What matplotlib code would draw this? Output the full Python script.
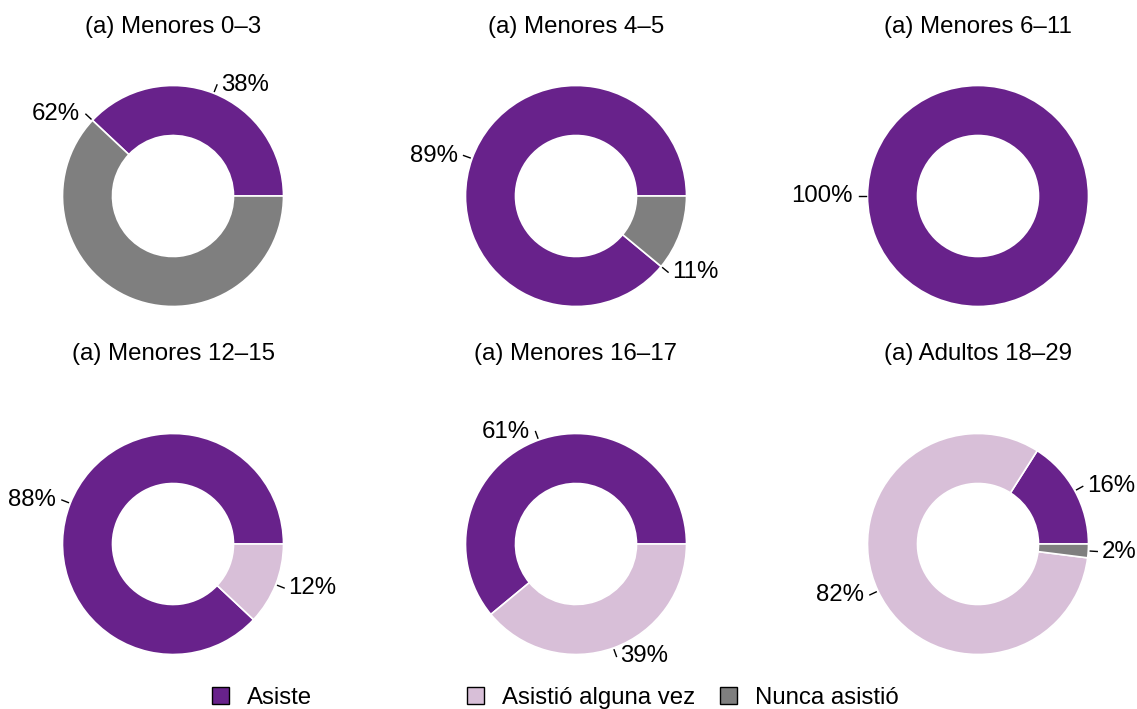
import numpy as np
import matplotlib
matplotlib.use("Agg")
import matplotlib.pyplot as plt
from matplotlib.patches import Patch

plt.rcParams["font.family"] = ["Liberation Sans", "DejaVu Sans"]

# Data
groups = ["Menores 0–3", "Menores 4–5", "Menores 6–11",
          "Menores 12–15", "Menores 16–17", "Adultos 18–29"]
categories = ["Asiste", "Asistió alguna vez", "Nunca asistió"]
asiste = [38, 89, 100, 88, 61, 16]
asistio = [0, 0, 0, 12, 39, 82]
nunca = [62, 11, 0, 0, 0, 2]

colors = ["#68228B", "#D8BFD8", "#7F7F7F"]

# in the original, these labels sit at the start of their slice, not the middle
label_at_start = {(0, 2), (1, 2)}

W, H = 1137, 709
fig = plt.figure(figsize=(W / 100, H / 100), dpi=100)

centers_x = [173, 576, 978]
centers_y = [196, 544]
title_y = [27, 354]
half = 170          # axes half-size in px, 100 px per data unit
r_out, r_in = 1.105, 0.605
fs = 17.3

for i, grp in enumerate(groups):
    row, col = divmod(i, 3)
    cx, cy = centers_x[col], centers_y[row]
    ax = fig.add_axes([(cx - half) / W, (H - cy - half) / H, 2 * half / W, 2 * half / H])
    vals = np.array([asiste[i], asistio[i], nunca[i]], dtype=float)
    keep = vals > 0
    ax.pie(vals[keep], colors=[c for c, k in zip(colors, keep) if k],
           startangle=0, counterclock=True, radius=r_out,
           wedgeprops=dict(width=r_out - r_in, edgecolor="white", linewidth=1.2))
    ax.set_xlim(-half / 100, half / 100)
    ax.set_ylim(-half / 100, half / 100)
    ax.set_aspect("equal")
    ax.axis("off")

    # labels with short leader ticks
    start = 0.0
    for j, v in enumerate(vals):
        if v <= 0:
            continue
        frac = start if (i, j) in label_at_start else start + v / 2
        ang = np.deg2rad(frac / 100 * 360)
        c, s = np.cos(ang), np.sin(ang)
        ax.plot([c * (r_out + 0.02), c * (r_out + 0.09)],
                [s * (r_out + 0.02), s * (r_out + 0.09)],
                color="black", lw=1, clip_on=False)
        tx = c * (r_out + 0.09) + (0.04 if c >= 0 else -0.06)
        ty = s * (r_out + 0.09)
        ax.text(tx, ty, f"{int(v)}%", ha="left" if c >= 0 else "right",
                va="center", fontsize=fs)
        start += v

    fig.text(cx / W, 1 - title_y[row] / H, f"(a) {grp}", ha="center",
             va="center", fontsize=fs)

# Legend: three evenly spaced entries
legend_x = [212, 467, 720]
for cat, color, lx in zip(categories, colors, legend_x):
    fig.legend(handles=[Patch(facecolor=color, edgecolor="black", linewidth=1)],
               labels=[cat], loc="center left",
               bbox_to_anchor=(lx / W, 1 - 698 / H), frameon=False,
               fontsize=fs, handlelength=0.72, handleheight=0.72,
               handletextpad=0.75, borderpad=0, borderaxespad=0)

fig.savefig("out.png", dpi=100)
